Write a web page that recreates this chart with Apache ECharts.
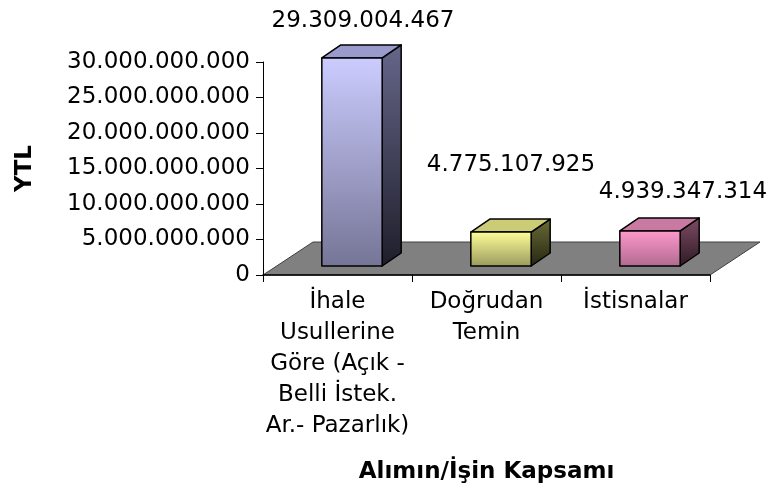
<!DOCTYPE html>
<html>
<head>
<meta charset="utf-8">
<script src="https://cdn.jsdelivr.net/npm/echarts@6/dist/echarts.min.js"></script>
<style>
html,body{margin:0;padding:0;background:#fff;}
#echart{width:781px;height:491px;}
</style>
</head>
<body>
<div id="echart"></div>
<script>
// veriler
var categories = ['İhale\nUsullerine\nGöre (Açık -\nBelli İstek.\nAr.- Pazarlık)', 'Doğrudan\nTemin', 'İstisnalar'];
var values = [29309004467, 4775107925, 4939347314];
var yTicks = [0, 5000000000, 10000000000, 15000000000, 20000000000, 25000000000, 30000000000];
var yName = 'YTL';
var xName = 'Alımın/İşin Kapsamı';

// renkler: ön yüz (üst, alt), yan yüz (üst, alt), üst yüz
var barColors = [
	{front: ['#ccccff', '#757596'], side: ['#66668a', '#1e1e2a'], top: '#9a9acc'},
	{front: ['#ffff99', '#99995c'], side: ['#6b6b3a', '#26260f'], top: '#cccc77'},
	{front: ['#ff99cc', '#b06a8e'], side: ['#7f4c66', '#2e1a24'], top: '#c97aa2'}
];
// etiket kaydırmaları (ön yüz üst ortasına göre)
var labelShift = [[11, -37], [10, -67], [33, -39]];

var FONT = '"DejaVu Sans", sans-serif';
var FS = 23;
var FLOOR_DX = 50, FLOOR_DY = -33;
var FRONT_DX = 14.5, FRONT_DY = -9;
var BAR_DX = 19, BAR_DY = -13;

function fmt(v){
	return String(v).replace(/\B(?=(\d{3})+(?!\d))/g, '.');
}

function grad(c1, c2){
	return {type: 'linear', x: 0, y: 0, x2: 0, y2: 1, colorStops: [{offset: 0, color: c1}, {offset: 1, color: c2}]};
}

function renderFloor(params, api){
	var cs = params.coordSys;
	var bx = cs.x, by = cs.y + cs.height;
	return {
		type: 'polygon',
		shape: {points: [[bx, by], [bx + FLOOR_DX, by + FLOOR_DY], [bx + cs.width + FLOOR_DX, by + FLOOR_DY], [bx + cs.width, by]]},
		style: {fill: '#808080', stroke: '#404040', lineWidth: 1}
	};
}

function renderBar(params, api){
	var idx = api.value(0);
	var val = api.value(1);
	var base = api.coord([idx, 0]);
	var top = api.coord([idx, val]);
	var band = api.size([1, 0])[0];
	var w = band * 0.405;
	var fx = base[0] + FRONT_DX - w / 2;
	var y0 = base[1] + FRONT_DY;
	var y1 = top[1] + FRONT_DY;
	var c = barColors[idx];
	var sh = labelShift[idx];
	var stroke = {stroke: '#000', lineWidth: 1.5, lineJoin: 'round'};
	return {
		type: 'group',
		children: [
			{
				type: 'polygon',
				shape: {points: [[fx + w, y1], [fx + w + BAR_DX, y1 + BAR_DY], [fx + w + BAR_DX, y0 + BAR_DY], [fx + w, y0]]},
				style: Object.assign({fill: grad(c.side[0], c.side[1])}, stroke)
			},
			{
				type: 'polygon',
				shape: {points: [[fx, y1], [fx + BAR_DX, y1 + BAR_DY], [fx + w + BAR_DX, y1 + BAR_DY], [fx + w, y1]]},
				style: Object.assign({fill: c.top}, stroke)
			},
			{
				type: 'rect',
				shape: {x: fx, y: y1, width: w, height: y0 - y1},
				style: Object.assign({fill: grad(c.front[0], c.front[1])}, stroke)
			},
			{
				type: 'text',
				x: fx + w / 2 + sh[0],
				y: y1 + sh[1],
				style: {text: fmt(val), font: FS + 'px ' + FONT, fill: '#000', align: 'center', verticalAlign: 'middle'}
			}
		]
	};
}

var chart = echarts.init(document.getElementById('echart'));

var barData = [];
for (var i = 0; i < values.length; i++) {
	barData.push([i, values[i]]);
}

var option = {
	backgroundColor: '#fff',
	animation: false,
	grid: {left: 263, right: 71, top: 62, bottom: 216},
	xAxis: {
		type: 'category',
		data: categories,
		z: 5,
		name: xName,
		nameLocation: 'middle',
		nameGap: 186,
		nameTextStyle: {fontFamily: FONT, fontSize: FS, fontWeight: 'bold', color: '#000'},
		axisLine: {lineStyle: {color: '#000', width: 1.5}},
		axisTick: {show: true, length: 7, lineStyle: {color: '#000'}},
		axisLabel: {interval: 0, margin: 12, fontFamily: FONT, fontSize: FS, lineHeight: 31, color: '#000', align: 'center'},
		splitLine: {show: false}
	},
	yAxis: {
		type: 'value',
		min: yTicks[0],
		max: yTicks[yTicks.length - 1],
		interval: yTicks[1] - yTicks[0],
		z: 5,
		name: yName,
		nameLocation: 'middle',
		nameRotate: 90,
		nameGap: 226,
		nameTextStyle: {fontFamily: FONT, fontSize: FS, fontWeight: 'bold', color: '#000'},
		axisLine: {show: true, lineStyle: {color: '#000', width: 1}},
		axisTick: {show: true, length: 7, lineStyle: {color: '#000'}},
		axisLabel: {margin: 13, fontFamily: FONT, fontSize: FS, color: '#000', formatter: fmt},
		splitLine: {show: false}
	},
	series: [
		{
			type: 'custom',
			name: 'floor',
			z: 1,
			renderItem: renderFloor,
			data: [[0, 0]],
			silent: true
		},
		{
			type: 'custom',
			name: 'YTL',
			z: 2,
			renderItem: renderBar,
			encode: {x: 0, y: 1},
			data: barData
		}
	]
};

chart.setOption(option);
</script>
</body>
</html>
